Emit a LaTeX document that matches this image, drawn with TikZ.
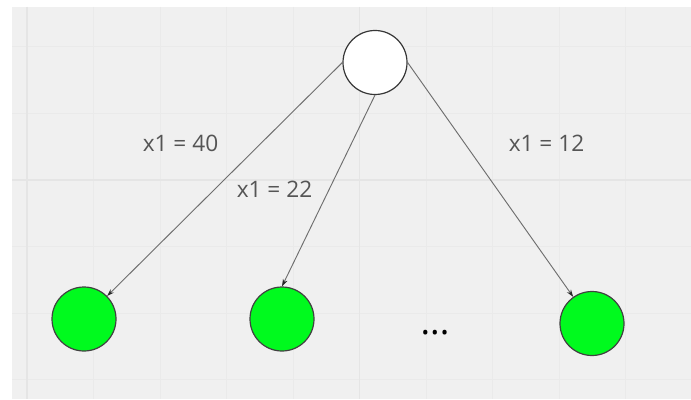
\documentclass[tikz,border=0pt]{standalone}
\usepackage{fontspec}
\setmainfont{Open Sans}
\usetikzlibrary{arrows.meta}

\begin{document}
\begin{tikzpicture}[x=0.75pt,y=0.75pt,yscale=-1,xscale=1,
  rootnode/.style={circle,draw={rgb, 255:red, 55; green, 55; blue, 55},line width=0.9pt,fill=white,minimum size=48pt,inner sep=0pt},
  leafnode/.style={circle,draw={rgb, 255:red, 65; green, 65; blue, 65},line width=0.9pt,fill={rgb, 255:red, 0; green, 250; blue, 30},minimum size=48pt,inner sep=0pt},
  branch/.style={draw={rgb, 255:red, 110; green, 110; blue, 110},line width=0.7pt,-{Stealth[length=5.5pt,width=3.6pt,color={rgb, 255:red, 40; green, 40; blue, 40}]}},
  branchlabel/.style={text={rgb, 255:red, 85; green, 85; blue, 85},font=\fontsize{17}{20}\selectfont,inner sep=0pt},
  minorgrid/.style={draw={rgb, 255:red, 234; green, 234; blue, 234},line width=0.75pt},
  majorgrid/.style={draw={rgb, 255:red, 229; green, 229; blue, 229},line width=1.1pt}
]
\useasboundingbox (0,0) rectangle (691,399);

%Shape: Rectangle (canvas)
\fill[white] (0,0) rectangle (691,399);
\fill[fill={rgb, 255:red, 240; green, 240; blue, 240}] (12,7) rectangle (691,399);
%Grid
\foreach \gx in {93.5,160,226.5,293,426,492.5,559,625.5}
  \draw[minorgrid] (\gx,7) -- (\gx,399);
\foreach \gy in {47,113.5,246.5,313,379.5}
  \draw[minorgrid] (12,\gy) -- (691,\gy);
\draw[majorgrid] (27,7) -- (27,399);
\draw[majorgrid] (359.5,7) -- (359.5,399);
\draw[majorgrid] (12,180) -- (691,180);

%Shape: Circle
\node[rootnode] (root) at (375,62.5) {};
%Shape: Circle
\node[leafnode] (leafa) at (84,319) {};
%Shape: Circle
\node[leafnode] (leafb) at (282,319) {};
%Shape: Circle
\node[leafnode] (leafc) at (592,323.5) {};

%Straight Lines
\draw[branch] (root.west) -- (leafa);
%Straight Lines
\draw[branch] (root.south) -- (leafb.north);
%Straight Lines
\draw[branch] (root.east) -- (leafc);

% Text Node
\node[branchlabel] (lbla) at (180.5,143.5) {x1 = 40};
% Text Node
\node[branchlabel] (lblb) at (274.5,189) {x1 = 22};
% Text Node
\node[branchlabel] (lblc) at (546.5,143.5) {x1 = 12};
% Text Node
\node[anchor=base,inner sep=0pt,font=\fontsize{27}{30}\selectfont] (dots) at (435,334.5) {...};

\end{tikzpicture}
\end{document}
